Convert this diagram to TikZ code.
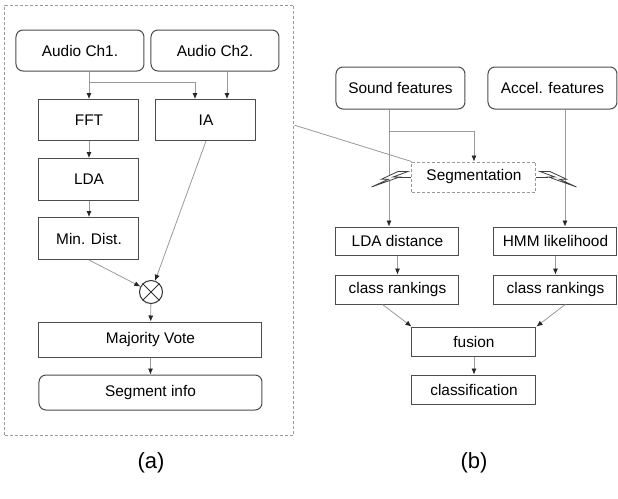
\documentclass[tikz,border=0pt]{standalone}
\usepackage{fontspec}
\setmainfont{Liberation Sans}
\usetikzlibrary{arrows.meta,positioning,calc}
\tikzset{
  blockbox/.style={draw=black!70, line width=0.5pt, inner sep=0pt, align=center, font=\fontsize{7.7}{9}\selectfont},
  sourcebox/.style={blockbox, rounded corners=3.5pt},
  segbox/.style={draw=black!40, dash pattern=on 1.5pt off 1pt, line width=0.5pt, inner sep=0pt, font=\fontsize{7.7}{9}\selectfont},
  panelframe/.style={draw=black!40, dash pattern=on 1.5pt off 1pt, line width=0.5pt, inner sep=0pt},
  flowarrow/.style={-{Latex[length=3pt,width=2.6pt,color=black!85]}, line width=0.4pt, draw=black!40},
  flowline/.style={line width=0.4pt, draw=black!40},
  sublabel/.style={font=\fontsize{11}{13}\selectfont},
  bolt/.pic={
    \draw[line width=0.4pt, black!75] (0,0) -- (-12,0);
    \draw[line width=0.4pt, black!75, fill=white, line join=miter]
      (-13.5,-5.5) -- (-3.5,-5.5) -- (-18.5,0) -- (-12,0) -- (-40,10)
      -- (-23,2.2) -- (-30,2.2) -- cycle;
  }
}

\begin{document}
\begin{tikzpicture}[x=0.5pt, y=-0.5pt]
\useasboundingbox (0,0) rectangle (618,499);

% (a) audio pipeline
\node[panelframe, minimum width=144.5pt, minimum height=215pt] (pa) at (149.5,220) {};
\node[sourcebox, minimum width=64pt, minimum height=20.5pt] (ch1) at (80,50.5) {Audio Ch1.};
\node[sourcebox, minimum width=64pt, minimum height=20.5pt] (ch2) at (215,50.5) {Audio Ch2.};
\node[blockbox, minimum width=50pt, minimum height=20.5pt] (fft) at (89,120) {FFT};
\node[blockbox, minimum width=50pt, minimum height=20.5pt] (ia) at (206,120) {IA};
\node[blockbox, minimum width=50pt, minimum height=21pt, below=8.5pt of fft] (lda) {LDA};
\node[blockbox, minimum width=50pt, minimum height=21pt, below=8pt of lda] (mind) {Min. Dist.};
\node[draw=black!80, line width=0.5pt, circle, minimum size=11.5pt, inner sep=0pt] (xop) at (151,292) {};
\draw[black!80, line width=0.5pt] (xop.north west) -- (xop.south east) (xop.north east) -- (xop.south west);
\node[blockbox, minimum width=111.5pt, minimum height=17.5pt] (mv) at (150.5,339.5) {Majority Vote};
\node[sourcebox, minimum width=111.5pt, minimum height=17.5pt, below=8.5pt of mv] (seginfo) {Segment info};

\coordinate (chsplit) at ($(ch1.south)!0.4!(fft.north)$);
\draw[flowarrow] (fft.north |- ch1.south) -- (fft.north);
\draw[flowarrow] (fft.north |- chsplit) -| ([xshift=-5.5pt]ia.north);
\draw[flowarrow] ([xshift=10.5pt]ia.north |- ch2.south) -- ([xshift=10.5pt]ia.north);
\foreach \u/\v in {fft/lda,lda/mind,mv/seginfo}{\draw[flowarrow] (\u) -- (\v);}
\draw[flowarrow] (mind.south) -- (xop);
\draw[flowarrow] (ia.south) -- (xop);
\draw[flowarrow] (xop) -- (mv);

% (b) fusion pipeline
\node[sourcebox, minimum width=64.5pt, minimum height=21pt] (snd) at (400.5,88) {Sound features};
\node[sourcebox, minimum width=64.5pt, minimum height=21pt] (acc) at (552.5,88) {Accel. features};
\node[segbox, minimum width=62pt, minimum height=15pt] (segm) at (474,177) {Segmentation};
\node[blockbox, minimum width=61.5pt, minimum height=14pt] (ldad) at (397.5,241) {LDA distance};
\node[blockbox, minimum width=61.5pt, minimum height=14pt] (hmm) at (555.5,241) {HMM likelihood};
\node[blockbox, minimum width=61.5pt, minimum height=14.5pt, below=9.5pt of ldad] (rankl) {class rankings};
\node[blockbox, minimum width=61.5pt, minimum height=14.5pt, below=9.5pt of hmm] (rankr) {class rankings};
\node[blockbox, minimum width=62pt, minimum height=14.5pt] (fusion) at (474,341.5) {fusion};
\node[blockbox, minimum width=62pt, minimum height=14.5pt, below=9pt of fusion] (classif) {classification};

\coordinate (sndsplit) at ($(snd.south)!0.43!(segm.north)$);
\draw[flowarrow] ([xshift=-4.25pt]ldad.north |- snd.south) -- ([xshift=-4.25pt]ldad.north);
\draw[flowarrow] ([xshift=-4.25pt]ldad.north |- sndsplit) -| (segm.north);
\draw[flowarrow] ([xshift=4.75pt]hmm.north |- acc.south) -- ([xshift=4.75pt]hmm.north);
\draw[flowarrow] (ldad) -- (rankl);
\draw[flowarrow] (hmm) -- (rankr);
\draw[flowarrow] (rankl.225) -- (fusion.north west);
\draw[flowarrow] (rankr.-57) -- (fusion.north east);
\draw[flowarrow] (fusion) -- (classif);
\pic at (segm.west) {bolt};
\pic[xscale=-1] at (segm.east) {bolt};

% link between the panels
\draw[flowline] ($(pa.north east)!0.28!(pa.south east)$) -- (segm.north west);

\node[sublabel] (laba) at (151,463) {(a)};
\node[sublabel] (labb) at (474,463) {(b)};
\end{tikzpicture}
\end{document}
